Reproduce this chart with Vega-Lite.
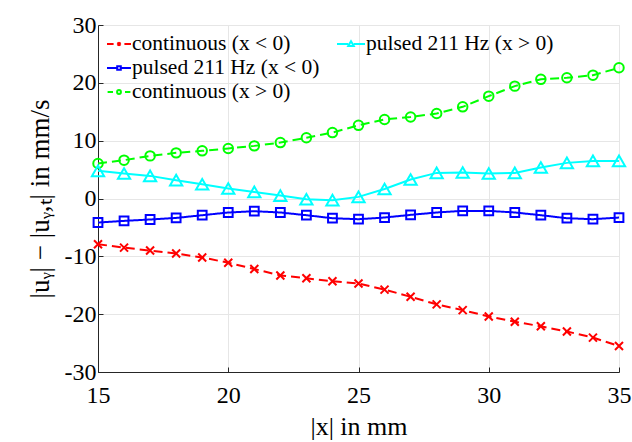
{
  "$schema": "https://vega.github.io/schema/vega-lite/v6.json",
  "width": 521,
  "height": 347,
  "autosize": {"type": "none"},
  "padding": {"left": 98, "top": 25, "right": 13, "bottom": 70},
  "config": {
    "font": "Liberation Serif",
    "view": {"stroke": "#e6e6e6"},
    "style": {
      "guide-label": {"font": "Liberation Serif"},
      "guide-title": {"font": "Liberation Serif"}
    },
    "axis": {
      "grid": true,
      "gridColor": "#e6e6e6",
      "gridWidth": 1,
      "domainColor": "#262626",
      "domainWidth": 1,
      "tickColor": "#262626",
      "tickSize": -5,
      "labelColor": "#000000",
      "titleColor": "#000000",
      "titleFontWeight": "normal",
      "labelFont": "Liberation Serif",
      "titleFont": "Liberation Serif",
      "labelFlush": false,
      "labelOverlap": false
    }
  },
  "datasets": {
    "pts": [
      {"s": "continuous (x < 0)", "x": 15, "v": -7.9},
      {"s": "continuous (x < 0)", "x": 16, "v": -8.5},
      {"s": "continuous (x < 0)", "x": 17, "v": -9.0},
      {"s": "continuous (x < 0)", "x": 18, "v": -9.5},
      {"s": "continuous (x < 0)", "x": 19, "v": -10.2},
      {"s": "continuous (x < 0)", "x": 20, "v": -11.1},
      {"s": "continuous (x < 0)", "x": 21, "v": -12.2},
      {"s": "continuous (x < 0)", "x": 22, "v": -13.3},
      {"s": "continuous (x < 0)", "x": 23, "v": -13.8},
      {"s": "continuous (x < 0)", "x": 24, "v": -14.3},
      {"s": "continuous (x < 0)", "x": 25, "v": -14.7},
      {"s": "continuous (x < 0)", "x": 26, "v": -15.75},
      {"s": "continuous (x < 0)", "x": 27, "v": -17.0},
      {"s": "continuous (x < 0)", "x": 28, "v": -18.3},
      {"s": "continuous (x < 0)", "x": 29, "v": -19.3},
      {"s": "continuous (x < 0)", "x": 30, "v": -20.4},
      {"s": "continuous (x < 0)", "x": 31, "v": -21.3},
      {"s": "continuous (x < 0)", "x": 32, "v": -22.1},
      {"s": "continuous (x < 0)", "x": 33, "v": -23.0},
      {"s": "continuous (x < 0)", "x": 34, "v": -24.05},
      {"s": "continuous (x < 0)", "x": 35, "v": -25.5},
      {"s": "pulsed 211 Hz (x < 0)", "x": 15, "v": -4.15},
      {"s": "pulsed 211 Hz (x < 0)", "x": 16, "v": -3.87},
      {"s": "pulsed 211 Hz (x < 0)", "x": 17, "v": -3.63},
      {"s": "pulsed 211 Hz (x < 0)", "x": 18, "v": -3.36},
      {"s": "pulsed 211 Hz (x < 0)", "x": 19, "v": -2.89},
      {"s": "pulsed 211 Hz (x < 0)", "x": 20, "v": -2.42},
      {"s": "pulsed 211 Hz (x < 0)", "x": 21, "v": -2.2},
      {"s": "pulsed 211 Hz (x < 0)", "x": 22, "v": -2.42},
      {"s": "pulsed 211 Hz (x < 0)", "x": 23, "v": -2.89},
      {"s": "pulsed 211 Hz (x < 0)", "x": 24, "v": -3.41},
      {"s": "pulsed 211 Hz (x < 0)", "x": 25, "v": -3.58},
      {"s": "pulsed 211 Hz (x < 0)", "x": 26, "v": -3.29},
      {"s": "pulsed 211 Hz (x < 0)", "x": 27, "v": -2.83},
      {"s": "pulsed 211 Hz (x < 0)", "x": 28, "v": -2.42},
      {"s": "pulsed 211 Hz (x < 0)", "x": 29, "v": -2.14},
      {"s": "pulsed 211 Hz (x < 0)", "x": 30, "v": -2.14},
      {"s": "pulsed 211 Hz (x < 0)", "x": 31, "v": -2.42},
      {"s": "pulsed 211 Hz (x < 0)", "x": 32, "v": -2.89},
      {"s": "pulsed 211 Hz (x < 0)", "x": 33, "v": -3.41},
      {"s": "pulsed 211 Hz (x < 0)", "x": 34, "v": -3.58},
      {"s": "pulsed 211 Hz (x < 0)", "x": 35, "v": -3.29},
      {"s": "continuous (x > 0)", "x": 15, "v": 6.06},
      {"s": "continuous (x > 0)", "x": 16, "v": 6.63},
      {"s": "continuous (x > 0)", "x": 17, "v": 7.37},
      {"s": "continuous (x > 0)", "x": 18, "v": 7.89},
      {"s": "continuous (x > 0)", "x": 19, "v": 8.24},
      {"s": "continuous (x > 0)", "x": 20, "v": 8.65},
      {"s": "continuous (x > 0)", "x": 21, "v": 9.1},
      {"s": "continuous (x > 0)", "x": 22, "v": 9.67},
      {"s": "continuous (x > 0)", "x": 23, "v": 10.5},
      {"s": "continuous (x > 0)", "x": 24, "v": 11.4},
      {"s": "continuous (x > 0)", "x": 25, "v": 12.65},
      {"s": "continuous (x > 0)", "x": 26, "v": 13.67},
      {"s": "continuous (x > 0)", "x": 27, "v": 14.1},
      {"s": "continuous (x > 0)", "x": 28, "v": 14.7},
      {"s": "continuous (x > 0)", "x": 29, "v": 15.85},
      {"s": "continuous (x > 0)", "x": 30, "v": 17.7},
      {"s": "continuous (x > 0)", "x": 31, "v": 19.43},
      {"s": "continuous (x > 0)", "x": 32, "v": 20.6},
      {"s": "continuous (x > 0)", "x": 33, "v": 20.87},
      {"s": "continuous (x > 0)", "x": 34, "v": 21.33},
      {"s": "continuous (x > 0)", "x": 35, "v": 22.6},
      {"s": "pulsed 211 Hz (x > 0)", "x": 15, "v": 4.78},
      {"s": "pulsed 211 Hz (x > 0)", "x": 16, "v": 4.33},
      {"s": "pulsed 211 Hz (x > 0)", "x": 17, "v": 3.91},
      {"s": "pulsed 211 Hz (x > 0)", "x": 18, "v": 3.17},
      {"s": "pulsed 211 Hz (x > 0)", "x": 19, "v": 2.47},
      {"s": "pulsed 211 Hz (x > 0)", "x": 20, "v": 1.73},
      {"s": "pulsed 211 Hz (x > 0)", "x": 21, "v": 1.14},
      {"s": "pulsed 211 Hz (x > 0)", "x": 22, "v": 0.5},
      {"s": "pulsed 211 Hz (x > 0)", "x": 23, "v": -0.12},
      {"s": "pulsed 211 Hz (x > 0)", "x": 24, "v": -0.29},
      {"s": "pulsed 211 Hz (x > 0)", "x": 25, "v": 0.28},
      {"s": "pulsed 211 Hz (x > 0)", "x": 26, "v": 1.65},
      {"s": "pulsed 211 Hz (x > 0)", "x": 27, "v": 3.29},
      {"s": "pulsed 211 Hz (x > 0)", "x": 28, "v": 4.43},
      {"s": "pulsed 211 Hz (x > 0)", "x": 29, "v": 4.5},
      {"s": "pulsed 211 Hz (x > 0)", "x": 30, "v": 4.32},
      {"s": "pulsed 211 Hz (x > 0)", "x": 31, "v": 4.43},
      {"s": "pulsed 211 Hz (x > 0)", "x": 32, "v": 5.36},
      {"s": "pulsed 211 Hz (x > 0)", "x": 33, "v": 6.16},
      {"s": "pulsed 211 Hz (x > 0)", "x": 34, "v": 6.5},
      {"s": "pulsed 211 Hz (x > 0)", "x": 35, "v": 6.5}
    ]
  },
  "data": {"name": "pts"},
  "encoding": {
    "x": {
      "field": "x",
      "type": "quantitative",
      "scale": {"domain": [15, 35], "nice": false, "zero": false},
      "axis": {
        "values": [15, 20, 25, 30, 35],
        "title": "|x| in mm",
        "labelFont": "Liberation Serif",
        "labelFontSize": 24,
        "titleFont": "Liberation Serif",
        "titleFontSize": 26,
        "labelPadding": 16,
        "titlePadding": 6
      }
    },
    "y": {
      "field": "v",
      "type": "quantitative",
      "scale": {"domain": [-30, 30], "nice": false, "zero": false},
      "axis": {
        "values": [-30, -20, -10, 0, 10, 20, 30],
        "title": "|uᵧ| − |uᵧ,ₜ| in mm/s",
        "labelFont": "Liberation Serif",
        "labelFontSize": 24,
        "titleFont": "Liberation Serif",
        "titleFontSize": 27,
        "labelPadding": 7,
        "titlePadding": 10,
        "labelExpr": "replace(datum.label, '−', '-')"
      }
    }
  },
  "layer": [
    {
      "transform": [{"filter": "datum.s != 'pulsed 211 Hz (x > 0)'"}],
      "encoding": {
        "color": {
          "field": "s",
          "type": "nominal",
          "scale": {
            "domain": ["continuous (x < 0)", "pulsed 211 Hz (x < 0)", "continuous (x > 0)"],
            "range": ["#ff0000", "#0000ff", "#00ff00"]
          },
          "legend": {
            "orient": "none",
            "legendX": 8,
            "legendY": 6,
            "title": null,
            "padding": 0,
            "symbolSize": 576,
            "symbolStrokeWidth": 2,
            "labelFontSize": 21.5,
            "labelFont": "Liberation Serif",
            "labelColor": "#000000",
            "labelOffset": 0,
            "rowPadding": 0,
            "labelLimit": 400,
            "encode": {
              "symbols": {
                "update": {
                  "shape": {"signal": "datum.value === 'continuous (x < 0)' ? 'M-1,0H-0.45M0.45,0H1M-0.13,-0.13L0.13,0.13M-0.13,0.13L0.13,-0.13' : datum.value === 'pulsed 211 Hz (x < 0)' ? 'M-1,0H-0.15M0.15,0H1M-0.15,-0.15H0.15V0.15H-0.15Z' : 'M-0.95,0H-0.5M0.5,0H0.95M-0.16,0A0.16,0.16,0,1,0,0.16,0A0.16,0.16,0,1,0,-0.16,0'"},
                  "fill": {"value": "transparent"},
                  "strokeDash": {"value": []},
                  "opacity": {"value": 1}
                }
              }
            }
          }
        }
      },
      "layer": [
        {
          "mark": {"type": "line", "strokeWidth": 2},
          "encoding": {
            "strokeDash": {
              "field": "s",
              "type": "nominal",
              "scale": {
                "domain": ["continuous (x < 0)", "pulsed 211 Hz (x < 0)", "continuous (x > 0)"],
                "range": [[9, 5], [1, 0], [9, 5]]
              },
              "legend": null
            }
          }
        },
        {
          "mark": {"type": "point", "filled": false, "strokeWidth": 2, "opacity": 1},
          "encoding": {
            "shape": {
              "field": "s",
              "type": "nominal",
              "scale": {
                "domain": ["continuous (x < 0)", "pulsed 211 Hz (x < 0)", "continuous (x > 0)"],
                "range": ["M-1,-1L1,1M-1,1L1,-1", "square", "circle"]
              },
              "legend": null
            },
            "size": {
              "field": "s",
              "type": "nominal",
              "scale": {
                "domain": ["continuous (x < 0)", "pulsed 211 Hz (x < 0)", "continuous (x > 0)"],
                "range": [64, 90, 110]
              },
              "legend": null
            }
          }
        }
      ]
    },
    {
      "transform": [{"filter": "datum.s == 'pulsed 211 Hz (x > 0)'"}],
      "encoding": {
        "color": {
          "field": "s",
          "type": "nominal",
          "scale": {"domain": ["pulsed 211 Hz (x > 0)"], "range": ["#00ffff"]},
          "legend": {
            "orient": "none",
            "legendX": 238,
            "legendY": 4,
            "title": null,
            "padding": 0,
            "symbolSize": 784,
            "symbolStrokeWidth": 2,
            "labelFontSize": 21.5,
            "labelFont": "Liberation Serif",
            "labelColor": "#000000",
            "labelOffset": 0,
            "labelLimit": 400,
            "encode": {
              "symbols": {
                "update": {
                  "shape": {"value": "M-1,0H-0.2M0.2,0H1M0,-0.2L0.2,0.15L-0.2,0.15Z"},
                  "fill": {"value": "transparent"},
                  "strokeDash": {"value": []},
                  "opacity": {"value": 1}
                }
              }
            }
          }
        }
      },
      "layer": [
        {"mark": {"type": "line", "strokeWidth": 2}},
        {
          "mark": {"type": "point", "shape": "triangle-up", "filled": false, "strokeWidth": 2, "opacity": 1},
          "encoding": {"size": {"value": 150}}
        }
      ]
    }
  ],
  "resolve": {"scale": {"color": "independent"}}
}
